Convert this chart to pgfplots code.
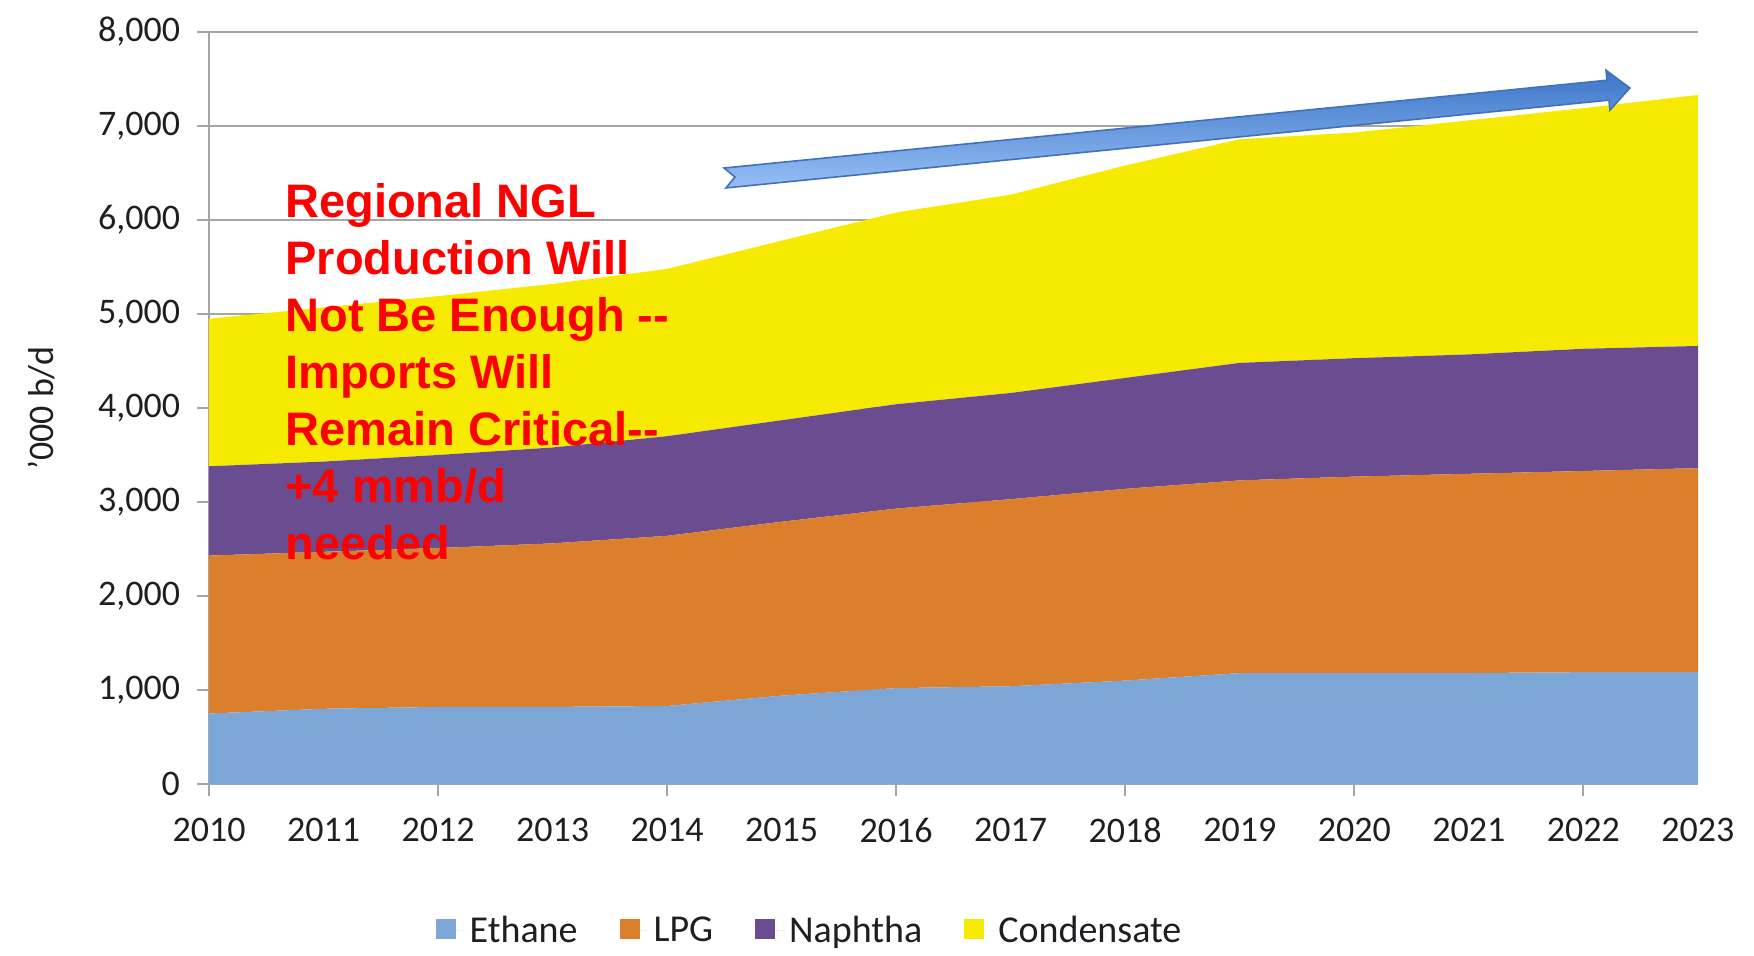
\documentclass[border=0pt]{standalone}
\usepackage{fontspec}
\setmainfont{Carlito}
\newfontfamily\arialfont{Liberation Sans}[Ligatures=NoCommon]
\usepackage{pgfplots}
\usepackage{pgfplotstable}
\pgfplotsset{compat=1.18}

\definecolor{ethane}{RGB}{123,166,214}
\definecolor{lpg}{RGB}{219,127,44}
\definecolor{naphtha}{RGB}{106,77,145}
\definecolor{cond}{RGB}{245,234,0}
\definecolor{gridgray}{RGB}{165,165,165}
\definecolor{arrowdark}{RGB}{60,118,200}
\definecolor{arrowlight}{RGB}{150,190,245}
\definecolor{arrowedge}{RGB}{66,112,186}
\definecolor{labeltext}{RGB}{30,30,35}

\pgfplotstableread{
year ethane lpg naphtha cond
2010 750 1680 950 1570
2011 800 1670 960 1640
2012 820 1690 990 1690
2013 820 1740 1020 1740
2014 830 1810 1060 1780
2015 940 1850 1080 1910
2016 1020 1910 1110 2040
2017 1040 1990 1130 2110
2018 1100 2040 1180 2260
2019 1180 2050 1250 2380
2020 1180 2090 1260 2400
2021 1180 2120 1270 2490
2022 1190 2140 1300 2560
2023 1190 2170 1300 2670
}\ngl

\begin{document}
\begin{tikzpicture}
\path[use as bounding box] (-104.5pt,-86pt) rectangle (772.5pt,392pt);
\begin{axis}[
  at={(0pt,0pt)}, anchor=south west,
  scale only axis, width=744.5pt, height=376pt,
  xmin=2010, xmax=2023, ymin=0, ymax=8000,
  stack plots=y,
  axis lines*=left,
  axis line style={gridgray, line width=1.2pt},
  ytick={0,1000,...,8000},
  scaled y ticks=false,
  ymajorgrids,
  grid style={gridgray, line width=1.2pt},
  tick align=outside,
  major tick length=6pt,
  ytick style={gridgray, line width=1pt},
  xtick={2010,...,2023},
  xtick style={draw=none},
  extra x ticks={2010,2012,...,2022},
  extra x tick labels={},
  extra x tick style={grid=none, xtick style={draw=gridgray, line width=1pt}},
  tick label style={font=\fontsize{18}{21}\selectfont, text=labeltext},
  /pgf/number format/assume math mode=true,
  yticklabel style={/pgf/number format/1000 sep={,}, xshift=-5pt},
  xticklabel style={/pgf/number format/1000 sep={}, yshift=-7.5pt},
  ylabel={'000 b/d},
  ylabel style={at={(axis description cs:-0.1122,0.5)}, anchor=center, font=\fontsize{18}{21}\selectfont, text=labeltext},
  legend style={at={(axis description cs:0.404,-0.195)}, anchor=center, draw=none, fill=none,
    font=\fontsize{19}{22}\selectfont, text=labeltext, legend columns=-1,
    /tikz/every even column/.append style={column sep=19pt}},
  legend image code/.code={\fill[#1] (0pt,-4.2pt) rectangle (10pt,5.8pt); \path (0pt,0pt) -- (15pt,0pt);},
]
\addplot[fill=ethane, draw=none] table[x=year, y=ethane]{\ngl} \closedcycle;
\addplot[fill=lpg, draw=none] table[x=year, y=lpg]{\ngl} \closedcycle;
\addplot[fill=naphtha, draw=none] table[x=year, y=naphtha]{\ngl} \closedcycle;
\addplot[fill=cond, draw=none] table[x=year, y=cond]{\ngl} \closedcycle;
\legend{Ethane, LPG, Naphtha, Condensate}
\end{axis}
\node[anchor=north west, inner sep=0pt, align=left, text=red,
  font=\arialfont\bfseries\fontsize{23.5}{28.5}\selectfont]
  at (38pt,300.3pt) {Regional NGL\\Production Will\\Not Be Enough -{}-\\Imports Will\\Remain Critical-{}-\\+4 mmb/d\\needed};
\begin{scope}[shift={(258pt,303pt)}, rotate=5.68]
\path[draw=arrowedge, line width=0.8pt, top color=arrowdark, bottom color=arrowlight]
  (0pt,5pt) -- (443.7pt,5pt) -- (443.7pt,10pt) -- (454.7pt,0pt) -- (443.7pt,-10pt)
  -- (443.7pt,-5pt) -- (0pt,-5pt) -- (5pt,0pt) -- cycle;
\end{scope}
\end{tikzpicture}
\end{document}
